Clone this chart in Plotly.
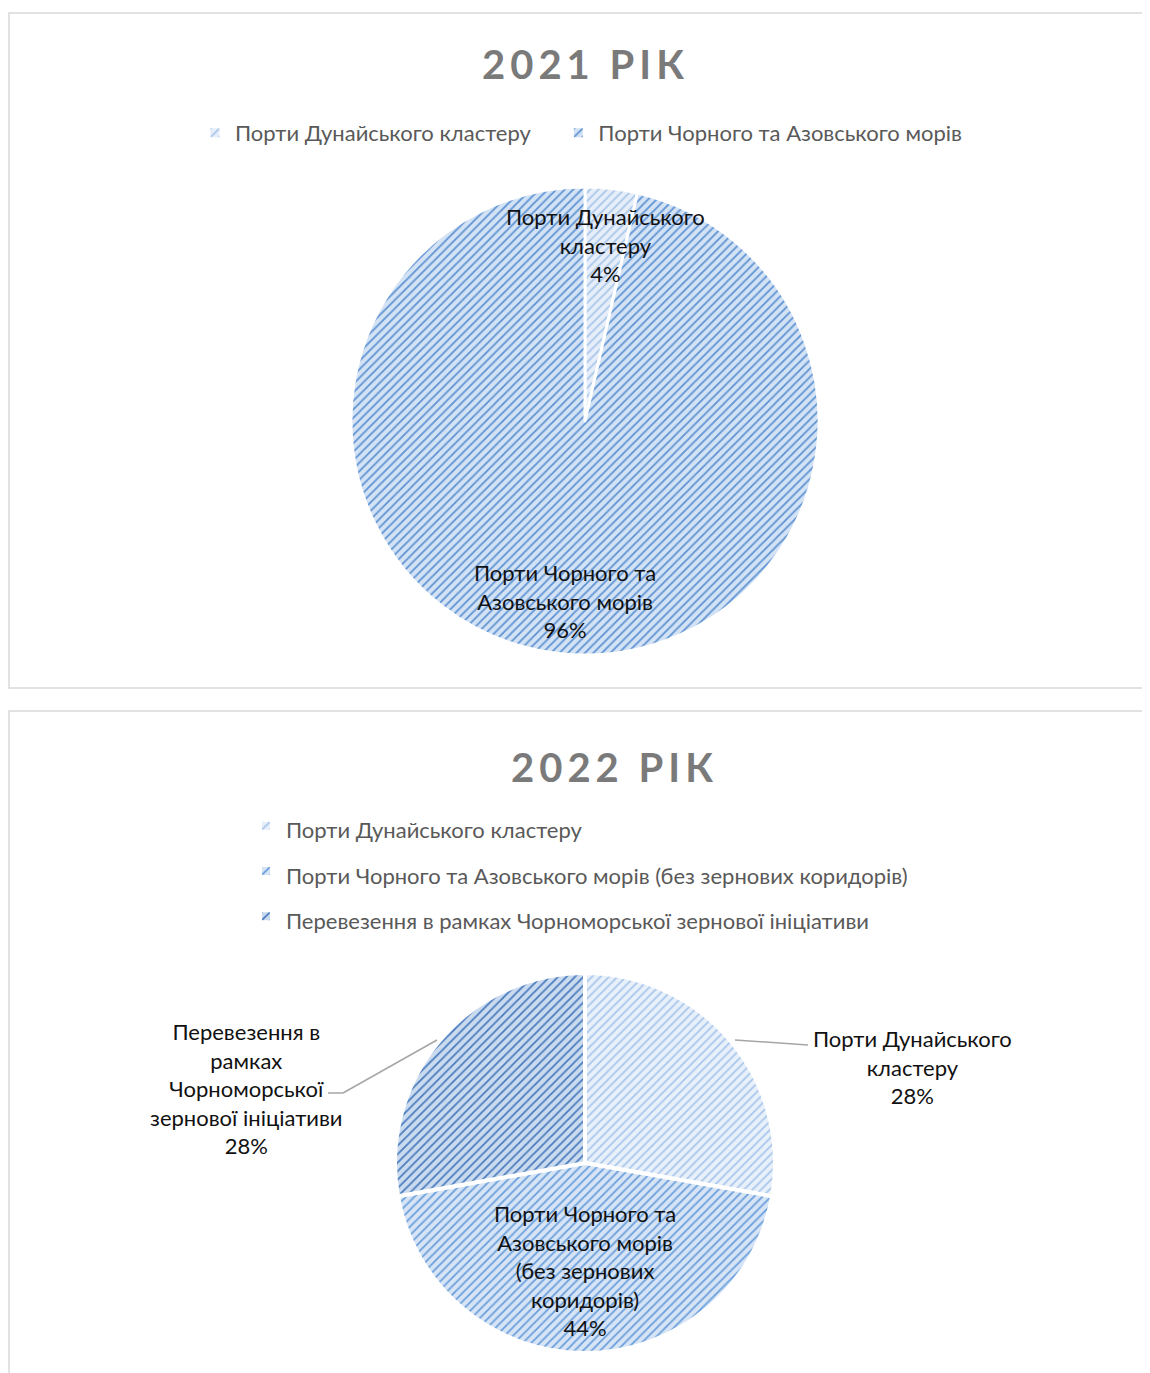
import plotly.graph_objects as go

# ---------------- data ----------------
title_2021 = "2021 РІК"
labels_2021 = ["Порти Дунайського кластеру", "Порти Чорного та Азовського морів"]
values_2021 = [3.6, 96.4]
slice_text_2021 = ["Порти Дунайського<br>кластеру", "Порти Чорного та<br>Азовського морів"]

title_2022 = "2022 РІК"
labels_2022 = [
    "Порти Дунайського кластеру",
    "Порти Чорного та Азовського морів (без зернових коридорів)",
    "Перевезення в рамках Чорноморської зернової ініціативи",
]
values_2022 = [27.8, 44.4, 27.8]
slice_text_2022 = [
    "Порти Дунайського<br>кластеру",
    "Порти Чорного та<br>Азовського морів<br>(без зернових<br>коридорів)",
    "Перевезення в<br>рамках<br>Чорноморської<br>зернової ініціативи",
]

# ---------------- style ----------------
W, H = 1150, 1373
OFF = 8  # page body margin
FONT = "Lato, 'Noto Sans', sans-serif"
bg_2021 = ["#e6eef9", "#d3e2f4"]
fg_2021 = ["#a9c6ea", "#5e93d3"]
bg_2022 = ["#e8f0fa", "#d6e4f5", "#cbdbef"]
fg_2022 = ["#a9c6ec", "#6a9fdc", "#4a7cbf"]


def px(x):
    return (x - OFF) / W


def py(y):
    return 1 - (y - OFF) / H


def pct(vals):
    t = sum(vals)
    return [f"{round(v / t * 100)}%" for v in vals]


# legend entries for the horizontal 2021 legend get a little trailing room
legend_labels_2021 = [l + "\u00a0" * 4 if i < len(labels_2021) - 1 else l
                      for i, l in enumerate(labels_2021)]

fig = go.Figure()

fig.add_trace(go.Pie(
    labels=legend_labels_2021, values=values_2021, sort=False, direction="clockwise", rotation=0,
    domain=dict(x=[px(351), px(819)], y=[py(655), py(187)]),
    marker=dict(colors=bg_2021, line=dict(color="white", width=3),
                pattern=dict(shape="/", fgcolor=fg_2021, bgcolor=bg_2021, size=6, solidity=0.3)),
    textinfo="none", hoverinfo="label+percent", legend="legend",
))

fig.add_trace(go.Pie(
    labels=[f'<span style="font-size:22px">{l}</span>' for l in labels_2022],
    values=values_2022, sort=False, direction="clockwise", rotation=0,
    domain=dict(x=[px(395), px(775)], y=[py(1353), py(973)]),
    marker=dict(colors=bg_2022, line=dict(color="white", width=4),
                pattern=dict(shape="/", fgcolor=fg_2022, bgcolor=bg_2022, size=6, solidity=0.3)),
    textinfo="none", hoverinfo="label+percent", legend="legend2",
))

annotations = []
# titles
for t, (x, y) in [(title_2021, (585, 64)), (title_2022, (614, 767))]:
    annotations.append(dict(text=f'<b><span style="letter-spacing:5px">{t}</span></b>',
                            x=px(x), y=py(y), xref="paper", yref="paper",
                            xanchor="center", yanchor="middle",
                            showarrow=False, font=dict(family=FONT, size=40, color="#7a7a7a")))

# slice labels
p21 = pct(values_2021)
p22 = pct(values_2022)
lbl_pos_2021 = [(605, 245), (565, 601)]
lbl_pos_2022 = [(912, 1067), (585, 1270), (246, 1088)]
for txt, p, (x, y) in list(zip(slice_text_2021, p21, lbl_pos_2021)) + list(zip(slice_text_2022, p22, lbl_pos_2022)):
    annotations.append(dict(text=f"{txt}<br>{p}", x=px(x), y=py(y), xref="paper", yref="paper",
                            xanchor="center", yanchor="middle",
                            showarrow=False, align="center",
                            font=dict(family=FONT, size=22, color="#111111")))

shapes = [
    dict(type="rect", xref="paper", yref="paper", x0=px(9), x1=1.02, y0=py(688), y1=py(13),
         line=dict(color="#d9d9d9", width=1.5), layer="below"),
    dict(type="rect", xref="paper", yref="paper", x0=px(9), x1=1.02, y0=-0.02, y1=py(711),
         line=dict(color="#d9d9d9", width=1.5), layer="below"),
    # leader lines
    dict(type="line", xref="paper", yref="paper", x0=px(735), y0=py(1040), x1=px(808), y1=py(1045),
         line=dict(color="#a6a6a6", width=1.5)),
    dict(type="line", xref="paper", yref="paper", x0=px(437), y0=py(1040), x1=px(343), y1=py(1093),
         line=dict(color="#a6a6a6", width=1.5)),
    dict(type="line", xref="paper", yref="paper", x0=px(343), y0=py(1093), x1=px(328), y1=py(1093),
         line=dict(color="#a6a6a6", width=1.5)),
]

fig.update_layout(
    width=W, height=H,
    margin=dict(l=0, r=0, t=0, b=0),
    paper_bgcolor="white", plot_bgcolor="white",
    font=dict(family=FONT, color="#595959"),
    showlegend=True,
    legend=dict(orientation="h", x=px(195), xanchor="left", y=py(133), yanchor="middle",
                font=dict(family=FONT, size=22, color="#595959"), itemwidth=30,
                bgcolor="rgba(0,0,0,0)"),
    legend2=dict(orientation="v", x=px(246), xanchor="left", y=py(798), yanchor="top",
                 font=dict(family=FONT, size=32.5, color="#595959"), itemwidth=30,
                 bgcolor="rgba(0,0,0,0)"),
    annotations=annotations,
    shapes=shapes,
)

fig.write_html("out.html")
